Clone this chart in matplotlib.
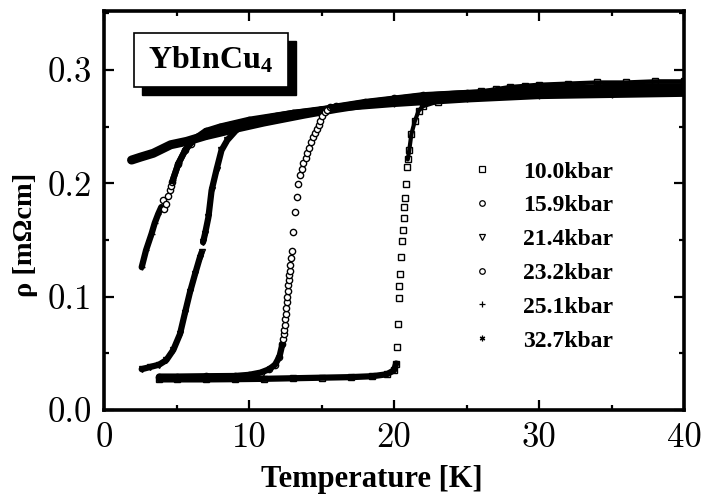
import matplotlib
matplotlib.use('Agg')
import matplotlib.pyplot as plt
from matplotlib.patches import Rectangle
from matplotlib.lines import Line2D
from matplotlib.ticker import MultipleLocator

# ---------------- data ----------------
labels = ['10.0kbar', '15.9kbar', '21.4kbar', '23.2kbar', '25.1kbar', '32.7kbar']
markers = ['s', 'o', 'v', 'o', '+', (6, 2, 0)]

xtick_vals = [0, 10, 20, 30, 40]
xtick_labels = ['0', '10', '20', '30', '40']
ytick_vals = [0.0, 0.1, 0.2, 0.3]
ytick_labels = ['0.0', '0.1', '0.2', '0.3']

# 10.0 kbar
t10_low = [3.8, 5, 7, 9, 11, 13, 15, 17, 18.5, 19.5, 20.0, 20.15]
r10_low = [0.027, 0.027, 0.027, 0.0272, 0.0275, 0.028, 0.0285, 0.029, 0.0298, 0.0315, 0.035, 0.041]
t10_rise = [20.2, 20.25, 20.34, 20.37, 20.4, 20.48, 20.55, 20.62, 20.67, 20.7, 20.76, 20.83, 20.9]
r10_rise = [0.056, 0.076, 0.099, 0.109, 0.12, 0.135, 0.149, 0.159, 0.169, 0.179, 0.187, 0.1995, 0.214]
t10_high = [20.95, 21.05, 21.2, 21.44, 21.7, 22.0, 23, 24, 25, 26, 27, 28, 29, 30, 32, 34, 36, 38, 40]
r10_high = [0.221, 0.229, 0.2435, 0.255, 0.264, 0.268, 0.272, 0.276, 0.279, 0.281, 0.283, 0.285,
            0.286, 0.287, 0.288, 0.289, 0.289, 0.290, 0.290]

# 15.9 kbar
t15_low = [3.8, 5, 7, 9, 10, 10.8, 11.4, 11.8, 12.1, 12.3]
r15_low = [0.0295, 0.0295, 0.0298, 0.030, 0.031, 0.033, 0.036, 0.040, 0.047, 0.058]
t15_rise = [12.37, 12.40, 12.43, 12.47, 12.51, 12.55, 12.58, 12.61, 12.64, 12.67, 12.71, 12.74,
            12.77, 12.80, 12.83, 12.9, 12.97, 13.06, 13.17, 13.28, 13.4, 13.5, 13.63, 13.75,
            13.9, 14.03, 14.16, 14.3, 14.44, 14.57, 14.7, 14.8, 14.9, 15.05, 15.24, 15.4]
r15_rise = [0.063, 0.067, 0.0704, 0.075, 0.080, 0.085, 0.090, 0.095, 0.0998, 0.105, 0.110, 0.1144,
            0.119, 0.123, 0.1276, 0.134, 0.14, 0.157, 0.1746, 0.1878, 0.1995, 0.207, 0.2127, 0.218,
            0.2223, 0.227, 0.231, 0.236, 0.2406, 0.244, 0.248, 0.2515, 0.255, 0.259, 0.2626, 0.265]
t15_high = [15.6, 16, 18, 20, 22, 25, 28, 31, 34, 37, 40]
r15_high = [0.267, 0.268, 0.272, 0.275, 0.278, 0.280, 0.282, 0.284, 0.285, 0.286, 0.286]

# 21.4 kbar
t21_low = [2.6, 3.2, 3.8, 4.3, 4.78, 5.24, 5.59, 5.93, 6.28, 6.6, 6.73]
r21_low = [0.036, 0.038, 0.040, 0.044, 0.053, 0.067, 0.086, 0.104, 0.12, 0.134, 0.139]
t21_high = [6.83, 6.96, 7.2, 7.42, 7.76, 8.1, 8.5, 9.2, 10, 12, 15, 20, 25, 30, 35, 40]
r21_high = [0.148, 0.155, 0.170, 0.1937, 0.212, 0.229, 0.238, 0.248, 0.253, 0.259, 0.265,
            0.272, 0.276, 0.278, 0.279, 0.280]

# 23.2 kbar
t23_circ = [4.1, 4.16, 4.28, 4.43, 4.55, 4.62]
r23_circ = [0.185, 0.1775, 0.182, 0.189, 0.1937, 0.198]
t23_band = [4.7, 5.12, 5.59, 5.97, 6.4, 7, 8, 10, 13, 16, 20, 25, 30, 35, 40]
r23_band = [0.201, 0.217, 0.229, 0.235, 0.2406, 0.246, 0.250, 0.256, 0.262, 0.267, 0.273,
            0.277, 0.280, 0.281, 0.282]

# 25.1 kbar
t25_low = [2.6, 2.9, 3.28, 3.5, 3.74, 3.95]
r25_low = [0.126, 0.141, 0.1555, 0.165, 0.173, 0.179]
t25_high = [4.75, 5.15, 5.6, 6.0, 6.5, 7.2, 8.5, 10, 13, 16, 20, 25, 30, 35, 40]
r25_high = [0.203, 0.218, 0.229, 0.236, 0.241, 0.246, 0.251, 0.255, 0.262, 0.266, 0.270,
            0.274, 0.277, 0.278, 0.279]

# 32.7 kbar
t32 = [1.9, 2.5, 3.4, 4.6, 5.7, 7, 8, 9.25, 11, 13.8, 16, 18, 20, 22, 24.5, 27, 30, 33, 36, 40]
r32 = [0.2205, 0.223, 0.2265, 0.234, 0.237, 0.242, 0.245, 0.249, 0.254, 0.261, 0.266, 0.270,
       0.273, 0.276, 0.278, 0.279, 0.280, 0.281, 0.281, 0.282]

# ---------------- figure ----------------
plt.rcParams['mathtext.fontset'] = 'custom'
plt.rcParams['mathtext.rm'] = 'Liberation Serif'
plt.rcParams['mathtext.bf'] = 'Liberation Serif:bold'

fig = plt.figure(figsize=(7.01, 4.95), dpi=100)
W, H = 701, 495
ax = fig.add_axes([104 / W, 1 - 410 / H, 580 / W, 399 / H])

def band(t, r, m, lw=4.0, ms=4.5):
    ax.plot(t, r, color='k', lw=lw, solid_capstyle='round', zorder=2)
    ax.plot(t, r, ls='none', marker=m, ms=ms, mfc='none', mec='k', mew=1.0, zorder=3)

def sparse(t, r, m, ms=4.5):
    ax.plot(t, r, ls='none', marker=m, ms=ms, mfc='white', mec='k', mew=1.0, zorder=3)

band(t32, r32, markers[5], lw=6.5)
band(t25_low, r25_low, markers[4], lw=4.5)
band(t25_high, r25_high, markers[4], lw=4.5)
sparse(t23_circ, r23_circ, markers[3])
band(t23_band, r23_band, markers[3], lw=4.5)
band(t21_low, r21_low, markers[2], lw=4.5)
band(t21_high, r21_high, markers[2], lw=4.5)
band(t15_low, r15_low, markers[1], lw=4.5)
sparse(t15_rise, r15_rise, markers[1])
band(t15_high, r15_high, markers[1], lw=4.0)
band(t10_low, r10_low, markers[0], lw=4.5)
sparse(t10_rise, r10_rise, markers[0])
band(t10_high, r10_high, markers[0], lw=3.0, ms=5)

ax.set_xlim(0, 40)
ax.set_ylim(0, 0.352)
ax.set_xticks(xtick_vals)
ax.set_xticklabels(xtick_labels, fontfamily='cmr10', fontsize=25)
ax.set_yticks(ytick_vals)
ax.set_yticklabels(ytick_labels, fontfamily='cmr10', fontsize=25)
ax.xaxis.set_minor_locator(MultipleLocator(5))
ax.yaxis.set_minor_locator(MultipleLocator(0.05))
ax.tick_params(which='both', direction='in', top=True, right=True, width=1.6, color='k')
ax.tick_params(which='major', length=7)
ax.tick_params(which='minor', length=3.5)
ax.tick_params(axis='x', which='major', pad=9)
ax.tick_params(axis='y', which='major', pad=9)
for s in ax.spines.values():
    s.set_linewidth(2.6)

ax.set_xlabel('Temperature [K]', fontfamily='Liberation Serif', fontweight='bold', fontsize=22)
ax.xaxis.set_label_coords((372 - 104) / 580, (410 - 480) / 399)
ax.xaxis.label.set_va('center')
ax.set_ylabel('ρ [mΩcm]', fontfamily='Liberation Serif', fontweight='bold', fontsize=20.5)
ax.yaxis.set_label_coords((25 - 104) / 580, (410 - 235) / 399)
ax.yaxis.label.set_va('center')

# title box with shadow
bx, by, bw, bh = (134 - 104) / 580, (410 - 87) / 399, 154 / 580, 54 / 399
dx, dy = 8 / 580, 8 / 399
ax.add_patch(Rectangle((bx + dx, by - dy), bw, bh, transform=ax.transAxes,
                       facecolor='k', edgecolor='k', zorder=5))
ax.add_patch(Rectangle((bx, by), bw, bh, transform=ax.transAxes,
                       facecolor='white', edgecolor='k', lw=1.2, zorder=6))
ax.text(bx + bw / 2, by + bh / 2, r'$\mathbf{YbInCu_4}$', transform=ax.transAxes,
        ha='center', va='center', fontsize=23, zorder=7)

# legend
handles = [Line2D([], [], ls='none', marker=m, ms=4, mfc='white', mec='k', mew=0.9)
           for m in markers]
leg = ax.legend(handles, labels, loc='upper left',
                bbox_to_anchor=(470 / W, 1 - 161 / H), bbox_transform=fig.transFigure,
                frameon=False, borderpad=0, borderaxespad=0, handlelength=1.0,
                handletextpad=1.24, labelspacing=0.52, numpoints=1,
                prop={'family': 'Liberation Serif', 'weight': 'bold', 'size': 17})

fig.savefig('out.png', dpi=100)
